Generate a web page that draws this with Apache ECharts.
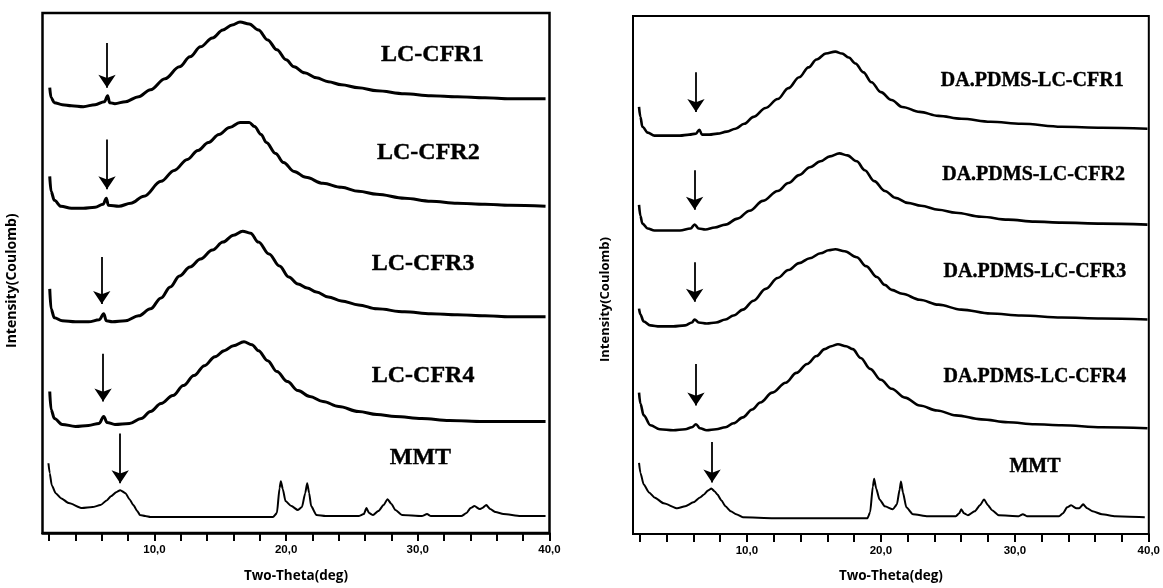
<!DOCTYPE html>
<html>
<head>
<meta charset="utf-8">
<script src="https://cdn.jsdelivr.net/npm/echarts@6/dist/echarts.min.js"></script>
<style>
html,body{margin:0;padding:0;background:#fff;}
#chart{width:1163px;height:588px;}
</style>
</head>
<body>
<div id="chart"></div>
<script>
// ---------- data (two-theta in degrees, intensity in arbitrary offset units) ----------
const xTicks = [2,4,6,8,10,12,14,16,18,20,22,24,26,28,30,32,34,36,38,40];
const xTickLabels = [10,20,30,40];

// left panel
const lcCfr1 = [[2.05,447],[2.15,437],[2.4,432],[3.0,430],[3.7,429],[4.6,428],[5.5,430],[6.2,433],[6.45,439],[6.6,432],[7.0,431],[7.8,433],[8.8,438],[9.7,445],[10.8,456],[11.9,468],[12.7,478],[13.5,488],[14.4,497],[15.2,505],[15.9,510],[16.5,513],[17.2,511],[17.9,505],[18.6,495],[19.3,485],[20.0,475],[20.6,468],[21.4,462],[22.3,457],[23.2,453],[24.2,450],[25.5,447],[26.9,444],[29,441],[31,439],[33,438],[35.1,437],[37,436],[39.7,436]];
const lcCfr2 = [[2.05,358],[2.15,343],[2.4,334],[2.9,328],[3.7,326],[4.6,326],[5.5,327],[6.1,330],[6.35,336],[6.5,329],[7.3,328],[8.2,331],[9.2,338],[10.5,353],[11.5,364],[12.5,375],[13.3,384],[14.1,392],[14.9,400],[15.7,407],[16.5,412],[17.2,412],[17.6,408],[18.1,400],[18.5,392],[19.2,381],[19.8,372],[20.6,363],[21.5,357],[22.8,351],[24.2,347],[25.5,343],[26.9,340],[29,336],[31,333],[33,331],[35.1,330],[37,329],[39.7,328]];
const lcCfr3 = [[2.05,245],[2.15,225],[2.4,216],[3.0,213],[4.0,212],[5.0,212],[5.8,214],[6.15,220],[6.35,213],[6.8,212],[7.8,213],[8.8,218],[9.7,225],[10.5,236],[11.2,247],[11.9,258],[12.7,267],[13.5,275],[14.4,284],[15.2,292],[16.0,299],[16.7,303],[17.3,301],[17.9,292],[18.7,280],[19.5,268],[20.2,257],[20.9,250],[21.6,246],[22.3,242],[23.2,237],[24.2,233],[25.5,229],[26.9,225],[29,222],[31,220],[33,219],[35.1,218],[37,217],[39.7,217]];
const lcCfr4 = [[2.05,142],[2.15,124],[2.4,115],[3.0,109],[4.0,107],[5.0,108],[5.8,110],[6.15,117],[6.4,111],[7.0,109],[8.1,110],[9.0,115],[9.7,122],[10.5,130],[11.4,138],[12.2,148],[13.0,158],[13.8,168],[14.6,177],[15.3,183],[16.0,188],[16.8,192],[17.4,189],[17.9,183],[18.6,173],[19.3,162],[20.1,152],[20.9,143],[21.8,137],[22.8,132],[24.0,127],[25.5,122],[26.9,119],[28.3,117],[30.3,115],[32.4,113],[35,112],[37,112],[39.7,112]];
const mmtLeft = [[1.95,70],[2.05,60],[2.2,48],[2.5,40],[2.9,35],[3.5,30],[4.5,25],[5.3,26],[5.9,28],[6.4,33],[6.7,37],[7.1,41],[7.4,43],[7.8,40],[8.1,34],[8.4,28],[8.7,22],[8.9,18],[9.3,17],[9.7,16],[12,16],[15,16],[18,16],[19.0,16],[19.3,20],[19.5,45],[19.6,52],[19.75,44],[19.95,32],[20.4,27],[20.9,23],[21.2,26],[21.45,40],[21.6,50],[21.75,40],[21.9,27],[22.3,18],[23,17],[25.5,17],[25.9,19],[26.1,25],[26.3,20],[26.6,18],[27.0,22],[27.4,28],[27.7,34],[28.0,29],[28.3,23],[28.8,18],[30.3,17],[30.7,19],[31.0,17],[33.3,17],[33.7,20],[34.0,25],[34.3,27],[34.7,24],[34.9,25],[35.2,28],[35.5,24],[35.9,21],[36.5,19],[37.8,17],[39.7,17]];

// right panel
const daCfr1 = [[1.95,432],[2.05,422],[2.2,412],[2.6,406],[3.1,403],[4.0,403],[5.0,403],[5.7,404],[6.2,405],[6.45,409],[6.65,404],[7.2,404],[7.8,405],[8.5,407],[9.15,410],[9.8,415],[10.5,422],[11.4,431],[12.3,440],[13.1,451],[13.9,462],[14.6,472],[15.2,480],[15.9,486],[16.6,488],[17.1,486],[17.6,482],[18.1,476],[18.7,467],[19.3,457],[20.0,447],[20.8,439],[21.6,432],[22.9,427],[24.3,423],[26,420],[28.2,417],[30.5,415],[33.5,412],[36.5,411],[39.9,410]];
const daCfr2 = [[1.95,333],[2.05,322],[2.2,314],[2.6,309],[3.1,307],[4.0,307],[5.0,307],[5.8,309],[6.1,313],[6.4,309],[6.9,308],[7.6,310],[8.4,313],[9.3,319],[10.2,327],[11.2,337],[12.3,347],[13.1,355],[13.9,363],[14.7,371],[15.5,377],[16.2,382],[16.9,385],[17.5,383],[18.2,377],[18.8,368],[19.5,357],[20.3,347],[21.1,340],[22.0,335],[23,332],[24.3,328],[25.6,325],[27.5,321],[29.5,318],[31.5,316],[33.5,315],[36.5,314],[39.9,313]];
const daCfr3 = [[1.95,228],[2.05,222],[2.3,215],[2.8,211],[3.5,210],[4.5,210],[5.4,211],[5.9,214],[6.1,217],[6.4,214],[7.0,213],[7.7,214],[8.4,217],[9.0,221],[9.7,227],[10.5,236],[11.4,248],[12.3,259],[13.1,267],[13.9,274],[14.7,279],[15.5,284],[16.1,287],[16.6,288],[17.3,286],[18.2,280],[18.9,271],[19.7,260],[20.3,252],[20.8,247],[21.6,243],[22.9,237],[24.3,232],[26,227],[28.2,223],[30.5,221],[33.5,219],[36.5,218],[39.9,217]];
const daCfr4 = [[1.95,143],[2.05,132],[2.3,120],[2.8,110],[3.5,106],[4.5,105],[5.4,106],[5.9,108],[6.2,111],[6.5,107],[7.0,105],[7.7,106],[8.4,108],[9.0,112],[9.7,118],[10.4,126],[11.0,133],[11.9,143],[12.9,153],[13.7,163],[14.5,172],[15.2,180],[15.8,187],[16.3,190],[16.8,192],[17.4,190],[17.9,187],[18.5,178],[19.2,167],[20.0,156],[20.8,147],[21.8,138],[22.9,130],[24.2,125],[25.6,120],[27.5,116],[29.5,113],[31.5,111],[33.5,110],[36.5,108],[39.9,107]];
const mmtRight = [[1.95,72],[2.05,62],[2.3,50],[2.7,42],[3.1,37],[3.8,31],[4.8,26],[5.4,28],[6.0,32],[6.5,37],[6.8,40],[7.1,44],[7.35,46],[7.6,43],[7.8,40],[8.1,34],[8.4,28],[8.8,23],[9.2,20],[9.7,17],[12,16],[15,16],[18,16],[19.0,16],[19.2,22],[19.4,48],[19.5,56],[19.65,46],[19.9,35],[20.3,28],[20.9,25],[21.2,30],[21.4,45],[21.5,53],[21.65,42],[21.9,27],[22.4,20],[23.5,18],[25.6,18],[25.85,21],[26.0,25],[26.2,21],[26.5,19],[27.0,23],[27.4,29],[27.7,35],[28.0,29],[28.3,24],[28.8,19],[30.3,18],[30.6,20],[30.9,18],[33.3,18],[33.6,21],[33.9,27],[34.2,29],[34.6,26],[34.8,26],[35.1,30],[35.4,26],[35.8,23],[36.5,20],[37.5,18],[39.7,17]];

// arrows (two-theta, top, bottom)
const arrowsLeftX = [6.4,6.4,6.0,6.1,7.4];
const arrowsLeftTop = [492,395,277,180,100];
const arrowsLeftBottom = [447,345,230,132,50];
const arrowsRightX = [6.2,6.1,6.1,6.2,7.4];
const arrowsRightTop = [467,368,275,172,93];
const arrowsRightBottom = [427,328,235,130,52];

// curve labels
const namesLeft = ["LC-CFR1","LC-CFR2","LC-CFR3","LC-CFR4","MMT"];
const namesLeftX = [31.1,30.8,30.4,30.4,30.2];
const namesLeftY = [480,382,270,158,75];
const namesRight = ["DA.PDMS-LC-CFR1","DA.PDMS-LC-CFR2","DA.PDMS-LC-CFR3","DA.PDMS-LC-CFR4","MMT"];
const namesRightX = [31.3,31.4,31.5,31.5,31.5];
const namesRightY = [458,363,265,159,68];

const xTitle = "Two-Theta(deg)";
const yTitle = "Intensity(Coulomb)";

// ---------- chart ----------
const chart = echarts.init(document.getElementById('chart'), null, {renderer:'canvas'});
const INK = '#000';

function xAxisFor(idx, borderW, nameGap){
  return {
    gridIndex: idx, type:'value', min:1.5, max:40,
    name: xTitle, nameLocation:'middle', nameGap: nameGap,
    nameTextStyle:{fontFamily:'Open Sans', fontWeight:'bold', fontSize:13.5, color:INK},
    axisLine:{show:true, onZero:false, lineStyle:{color:INK, width:borderW}},
    axisTick:{show:true, inside:false, length:8, lineStyle:{color:INK, width:2}, customValues:xTicks},
    axisLabel:{show:true, margin:11, customValues:xTickLabels, fontFamily:'Liberation Sans', fontWeight:'bold', fontSize:11.5, color:INK,
      formatter:v => Number(v).toFixed(1).replace('.', ',')},
    splitLine:{show:false}
  };
}
function yAxisFor(idx, maxV){
  return {gridIndex: idx, type:'value', min:0, max:maxV, show:false, splitLine:{show:false}};
}
function curve(idx, data, w, sm){
  return {type:'line', xAxisIndex:idx, yAxisIndex:idx, data:data, showSymbol:false, symbol:'none',
    smooth:sm, smoothMonotone:'x', lineStyle:{color:INK, width:w}, silent:true, animation:false};
}
function arrows(idx, xs, tops, bottoms){
  return {type:'lines', coordinateSystem:'cartesian2d', xAxisIndex:idx, yAxisIndex:idx,
    symbol:['none','arrow'], symbolSize:[8,13], silent:true, animation:false,
    lineStyle:{color:INK, width:1.8, opacity:1},
    data: xs.map((x,i)=>({coords:[[x,tops[i]],[x,bottoms[i]]]}))};
}
function labels(idx, names, xs, ys, size){
  return {type:'scatter', xAxisIndex:idx, yAxisIndex:idx, symbolSize:1, silent:true, animation:false,
    itemStyle:{color:'rgba(0,0,0,0)'},
    label:{show:true, position:'inside', formatter:p=>p.data[2], fontFamily:'Liberation Serif', fontWeight:'bold', fontSize:size,
      color:INK, textBorderColor:INK, textBorderWidth:0.4, opacity:1},
    data: names.map((n,i)=>[xs[i], ys[i], n])};
}

const option = {
  backgroundColor:'#fff',
  animation:false,
  grid:[
    {left:42.5, top:13, width:507, height:522, show:true, borderColor:INK, borderWidth:2.5, backgroundColor:'transparent'},
    {left:633, top:16, width:520, height:524, show:true, borderColor:INK, borderWidth:2, backgroundColor:'transparent'}
  ],
  xAxis:[xAxisFor(0,2.5,36), xAxisFor(1,2,35)],
  yAxis:[yAxisFor(0,522), yAxisFor(1,524)],
  graphic:[
    {type:'text', x:5, y:348, rotation:Math.PI/2, style:{text:yTitle, font:'bold 14px "Open Sans"', fill:INK}},
    {type:'text', x:599, y:362, rotation:Math.PI/2, style:{text:yTitle, font:'bold 13px "Open Sans"', fill:INK}}
  ],
  series:[
    curve(0, lcCfr1, 3, 0.35), curve(0, lcCfr2, 3, 0.35), curve(0, lcCfr3, 3, 0.35), curve(0, lcCfr4, 3, 0.35), curve(0, mmtLeft, 2, 0.2),
    arrows(0, arrowsLeftX, arrowsLeftTop, arrowsLeftBottom),
    labels(0, namesLeft, namesLeftX, namesLeftY, 24),
    curve(1, daCfr1, 2.6, 0.35), curve(1, daCfr2, 2.6, 0.35), curve(1, daCfr3, 2.6, 0.35), curve(1, daCfr4, 2.6, 0.35), curve(1, mmtRight, 2, 0.2),
    arrows(1, arrowsRightX, arrowsRightTop, arrowsRightBottom),
    labels(1, namesRight, namesRightX, namesRightY, 20)
  ]
};
chart.setOption(option);
</script>
</body>
</html>
